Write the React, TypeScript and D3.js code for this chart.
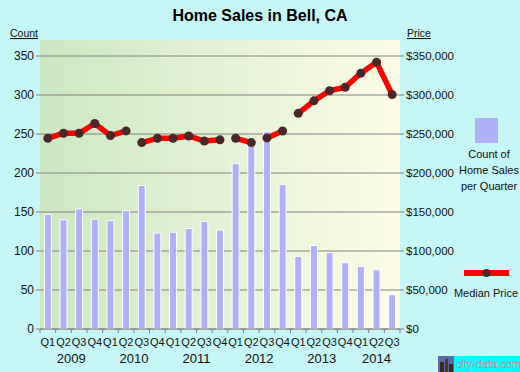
import { useEffect, useRef } from 'react'
import * as d3 from 'd3'

const quarters = ['Q1', 'Q2', 'Q3', 'Q4', 'Q1', 'Q2', 'Q3', 'Q4', 'Q1', 'Q2', 'Q3', 'Q4',
  'Q1', 'Q2', 'Q3', 'Q4', 'Q1', 'Q2', 'Q3', 'Q4', 'Q1', 'Q2', 'Q3']
const years = ['2009', '2010', '2011', '2012', '2013', '2014']
const salesCount = [147, 140, 154, 141, 139, 152, 184, 123, 124, 129, 138, 127,
  212, 238, 253, 185, 93, 107, 98, 85, 80, 76, 44]
// median price per quarter; the line breaks before each segment start
const medianPrice = [244500, 251000, 251000, 263500, 248000, 254000,
  239000, 244500, 244500, 247500, 241000, 242500,
  244500, 239000, 245000, 253800,
  276500, 292500, 305500, 310000, 328000, 342000, 300500]
const segmentStarts = [0, 6, 12, 14, 16]
const countTicks = [0, 50, 100, 150, 200, 250, 300, 350]
const priceTicks = [0, 50000, 100000, 150000, 200000, 250000, 300000, 350000]

const W = 520
const H = 372
const plot = { left: 40, right: 400, top: 40, bottom: 329 }
const font = '"Liberation Sans", Arial, sans-serif'

const App = () => {
  const svgRef = useRef<SVGSVGElement | null>(null)

  useEffect(() => {
    if (!svgRef.current) return
    const svg = d3.select(svgRef.current)
    svg.selectAll('*').remove()

    const x = d3.scaleBand<number>()
      .domain(quarters.map((_, i) => i))
      .range([plot.left, plot.right])
    const y = d3.scaleLinear()
      .domain([0, 350])
      .range([plot.bottom, 56])
    const yp = d3.scaleLinear()
      .domain([0, 350000])
      .range([plot.bottom, 56])
    const cx = (i: number) => (x(i) as number) + x.bandwidth() / 2

    const grad = svg.append('defs').append('linearGradient')
      .attr('id', 'bg').attr('x1', 0).attr('x2', 1).attr('y1', 0).attr('y2', 0)
    grad.append('stop').attr('offset', '0%').attr('stop-color', '#cce8c2')
    grad.append('stop').attr('offset', '100%').attr('stop-color', '#fcfce6')

    svg.append('rect').attr('width', W).attr('height', H).attr('fill', '#c6f6f6')
    svg.append('rect')
      .attr('x', plot.left).attr('y', plot.top)
      .attr('width', plot.right - plot.left).attr('height', plot.bottom - plot.top)
      .attr('fill', 'url(#bg)')

    // title
    svg.append('text')
      .attr('x', 260).attr('y', 21)
      .attr('text-anchor', 'middle')
      .style('font', `bold 16px ${font}`)
      .attr('fill', '#000')
      .text('Home Sales in Bell, CA')

    // grid lines with left/right ticks
    svg.append('g')
      .selectAll('line')
      .data(countTicks)
      .join('line')
      .attr('x1', plot.left - 4).attr('x2', plot.right + 4)
      .attr('y1', d => y(d)).attr('y2', d => y(d))
      .attr('stroke', '#808080').attr('stroke-width', 1)

    svg.append('g')
      .selectAll('text')
      .data(countTicks)
      .join('text')
      .attr('x', plot.left - 6).attr('y', d => y(d) + 4)
      .attr('text-anchor', 'end')
      .style('font', `12px ${font}`)
      .attr('fill', '#111')
      .text(d => d)

    svg.append('g')
      .selectAll('text')
      .data(priceTicks)
      .join('text')
      .attr('x', plot.right + 6).attr('y', d => yp(d) + 4)
      .style('font', `11.5px ${font}`)
      .attr('fill', '#111')
      .text(d => d3.format('$,')(d))

    // axis captions
    svg.append('text').attr('x', 10).attr('y', 37)
      .style('font', `10.5px ${font}`).attr('text-decoration', 'underline').attr('fill', '#111')
      .text('Count')
    svg.append('text').attr('x', 407).attr('y', 37)
      .style('font', `10.5px ${font}`).attr('text-decoration', 'underline').attr('fill', '#111')
      .text('Price')

    // bars
    svg.append('g')
      .selectAll('rect')
      .data(salesCount)
      .join('rect')
      .attr('x', (_, i) => cx(i) - 3.5)
      .attr('width', 7)
      .attr('y', d => y(d))
      .attr('height', d => plot.bottom - y(d))
      .attr('fill', '#b0b0f6')
      .attr('stroke', '#ffffff')
      .attr('stroke-width', 1)

    // x axis
    svg.append('line')
      .attr('x1', plot.left).attr('x2', plot.right)
      .attr('y1', plot.bottom).attr('y2', plot.bottom)
      .attr('stroke', '#808080')
    svg.append('g')
      .selectAll('line')
      .data(d3.range(quarters.length + 1))
      .join('line')
      .attr('x1', i => i < quarters.length ? (x(i) as number) : plot.right)
      .attr('x2', i => i < quarters.length ? (x(i) as number) : plot.right)
      .attr('y1', plot.bottom).attr('y2', plot.bottom + 4)
      .attr('stroke', '#808080')

    svg.append('g')
      .selectAll('text')
      .data(quarters)
      .join('text')
      .attr('x', (_, i) => cx(i))
      .attr('y', 346)
      .attr('text-anchor', 'middle')
      .style('font', `11px ${font}`)
      .attr('fill', '#111')
      .text(d => d)

    svg.append('g')
      .selectAll('text')
      .data(years)
      .join('text')
      .attr('x', (_, k) => {
        const first = k * 4
        const last = Math.min(k * 4 + 3, quarters.length - 1)
        return (cx(first) + cx(last)) / 2
      })
      .attr('y', 363)
      .attr('text-anchor', 'middle')
      .style('font', `13px ${font}`)
      .attr('fill', '#111')
      .text(d => d)

    // median price line
    const line = d3.line<number>()
      .x(i => cx(i))
      .y(i => yp(medianPrice[i]))
    segmentStarts.forEach((s, k) => {
      const e = k + 1 < segmentStarts.length ? segmentStarts[k + 1] : medianPrice.length
      svg.append('path')
        .datum(d3.range(s, e))
        .attr('d', line)
        .attr('fill', 'none')
        .attr('stroke', '#ff0000')
        .attr('stroke-width', 5.5)
        .attr('stroke-linejoin', 'round')
    })
    svg.append('g')
      .selectAll('circle')
      .data(medianPrice)
      .join('circle')
      .attr('cx', (_, i) => cx(i))
      .attr('cy', d => yp(d))
      .attr('r', 4.5)
      .attr('fill', '#4b2828')

    // legend
    svg.append('rect')
      .attr('x', 475).attr('y', 118).attr('width', 23).attr('height', 25)
      .attr('fill', '#b0b0f6')
    const legText = svg.append('text')
      .attr('text-anchor', 'middle')
      .style('font', `11px ${font}`)
      .attr('fill', '#111')
    ;['Count of', 'Home Sales', 'per Quarter'].forEach((t, i) => {
      legText.append('tspan')
        .attr('x', 489).attr('y', 158 + i * 16)
        .text(t)
    })
    svg.append('line')
      .attr('x1', 464).attr('x2', 509).attr('y1', 273).attr('y2', 273)
      .attr('stroke', '#ff0000').attr('stroke-width', 6)
    svg.append('circle').attr('cx', 486.5).attr('cy', 273).attr('r', 4).attr('fill', '#4b2828')
    svg.append('text')
      .attr('x', 486).attr('y', 297)
      .attr('text-anchor', 'middle')
      .style('font', `11px ${font}`)
      .attr('fill', '#111')
      .text('Median Price')

    // watermark
    svg.append('rect').attr('x', 454).attr('y', 356).attr('width', 66).attr('height', 16).attr('fill', '#00ffff')
    const bld = svg.append('g')
    bld.append('rect').attr('x', 438).attr('y', 356).attr('width', 16).attr('height', 16).attr('fill', '#5a6aa8')
    bld.append('rect').attr('x', 440).attr('y', 362).attr('width', 4).attr('height', 10).attr('fill', '#3a2a1a')
    bld.append('rect').attr('x', 445).attr('y', 359).attr('width', 3).attr('height', 13).attr('fill', '#4a3a20')
    bld.append('rect').attr('x', 449).attr('y', 364).attr('width', 4).attr('height', 8).attr('fill', '#3a2a1a')
    svg.append('text')
      .attr('x', 456).attr('y', 368)
      .style('font', `11px ${font}`)
      .attr('fill', '#e8e8e8')
      .attr('stroke', '#888').attr('stroke-width', 0.4)
      .text('city-data.com')
  }, [])

  return (
    <div style={{ position: 'absolute', left: 0, top: 0, width: W, height: H }}>
      <svg ref={svgRef} width={W} height={H} style={{ display: 'block' }} />
    </div>
  )
}

export default App
